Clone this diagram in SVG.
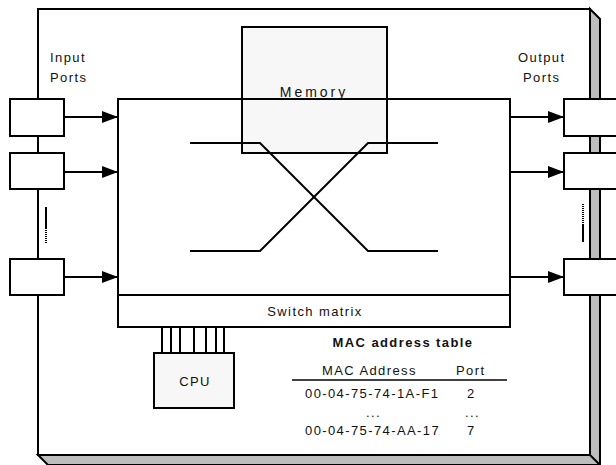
<svg xmlns="http://www.w3.org/2000/svg" width="616" height="465" viewBox="0 0 616 465">
<style>
.ln{stroke:#000;stroke-width:2;fill:none}
.box{stroke:#000;stroke-width:2;fill:#fff}
.gbox{stroke:#000;stroke-width:2;fill:#f7f7f7}
.t{font-family:"Liberation Sans",Arial,sans-serif;font-size:13px;letter-spacing:1.4px;fill:#111}
.b{font-weight:bold}
</style>
<defs>
<marker id="ah" markerWidth="16" markerHeight="12" refX="16" refY="6" orient="auto" markerUnits="userSpaceOnUse">
<path d="M0,0 L16,6 L0,12 Z" fill="#000"/>
</marker>
</defs>
<rect width="616" height="465" fill="#fff"/>
<g id="chassis">
<polygon points="590,9 600,19 600,465 48,465 38,455 590,455" fill="#bdbdbd" stroke="#000" stroke-width="2"/>
<line x1="590" y1="455" x2="600" y2="465" class="ln"/>
<rect x="38" y="9" width="552" height="446" class="box"/>
</g>
<g id="labels">
<text class="t" x="50" y="62">Input</text>
<text class="t" x="50" y="82">Ports</text>
<text class="t" x="518" y="62">Output</text>
<text class="t" x="523" y="82">Ports</text>
</g>
<g id="switch">
<rect x="118" y="99" width="392" height="228" class="box"/>
</g>
<g id="memory">
<rect x="242" y="27" width="145" height="126" class="gbox"/>
<text class="t" x="314" y="97" text-anchor="middle" style="font-size:14px;letter-spacing:3px">Memory</text>
</g>
<g id="switch-frame">
<rect x="118" y="99" width="392" height="228" class="ln"/>
<line x1="118" y1="295" x2="510" y2="295" class="ln"/>
<text class="t" x="315" y="316" text-anchor="middle">Switch matrix</text>
</g>
<g id="crossbar">
<polyline points="190,143 260,143 368,251 438,251" class="ln"/>
<polyline points="190,251 260,251 368,143 438,143" class="ln"/>
</g>
<g id="in1"><rect x="10" y="99" width="54" height="37" class="box"/></g>
<g id="in2"><rect x="10" y="153" width="54" height="36" class="box"/></g>
<g id="in3"><rect x="10" y="259" width="54" height="36" class="box"/></g>
<g id="out1"><rect x="564" y="99" width="60" height="37" class="box"/></g>
<g id="out2"><rect x="564" y="153" width="60" height="36" class="box"/></g>
<g id="out3"><rect x="564" y="259" width="60" height="36" class="box"/></g>
<g id="ellipses">
<line x1="46" y1="207" x2="46" y2="228" stroke="#000" stroke-width="2"/>
<line x1="46" y1="228" x2="46" y2="243" stroke="#000" stroke-width="2" stroke-dasharray="1,1"/>
<line x1="583" y1="204" x2="583" y2="224" stroke="#000" stroke-width="2" stroke-dasharray="1,1"/>
<line x1="583" y1="224" x2="583" y2="242" stroke="#000" stroke-width="2"/>
</g>
<g id="connectors">
<line x1="64" y1="117" x2="118" y2="117" class="ln" marker-end="url(#ah)"/>
<line x1="64" y1="172" x2="118" y2="172" class="ln" marker-end="url(#ah)"/>
<line x1="64" y1="277" x2="118" y2="277" class="ln" marker-end="url(#ah)"/>
<line x1="510" y1="117" x2="564" y2="117" class="ln" marker-end="url(#ah)"/>
<line x1="510" y1="172" x2="564" y2="172" class="ln" marker-end="url(#ah)"/>
<line x1="510" y1="277" x2="564" y2="277" class="ln" marker-end="url(#ah)"/>
<g stroke="#000" stroke-width="2">
<line x1="162" y1="327" x2="162" y2="353"/>
<line x1="171" y1="327" x2="171" y2="353"/>
<line x1="180" y1="327" x2="180" y2="353"/>
<line x1="194" y1="327" x2="194" y2="353"/>
<line x1="206" y1="327" x2="206" y2="353"/>
<line x1="216" y1="327" x2="216" y2="353"/>
<line x1="224" y1="327" x2="224" y2="353"/>
</g>
</g>
<g id="cpu">
<rect x="154" y="353" width="80" height="55" class="gbox"/>
<text class="t" x="195" y="386" text-anchor="middle">CPU</text>
</g>
<g id="mac-table">
<text class="t b" x="403" y="347" text-anchor="middle">MAC address table</text>
<text class="t" x="322" y="375">MAC Address</text>
<text class="t" x="456" y="375">Port</text>
<line x1="292" y1="380" x2="507" y2="380" stroke="#000" stroke-width="1.5"/>
<text class="t" x="305" y="398">00-04-75-74-1A-F1</text>
<text class="t" x="467" y="398">2</text>
<text class="t" x="366" y="417">...</text>
<text class="t" x="465" y="417">...</text>
<text class="t" x="305" y="435">00-04-75-74-AA-17</text>
<text class="t" x="467" y="435">7</text>
</g>
</svg>
